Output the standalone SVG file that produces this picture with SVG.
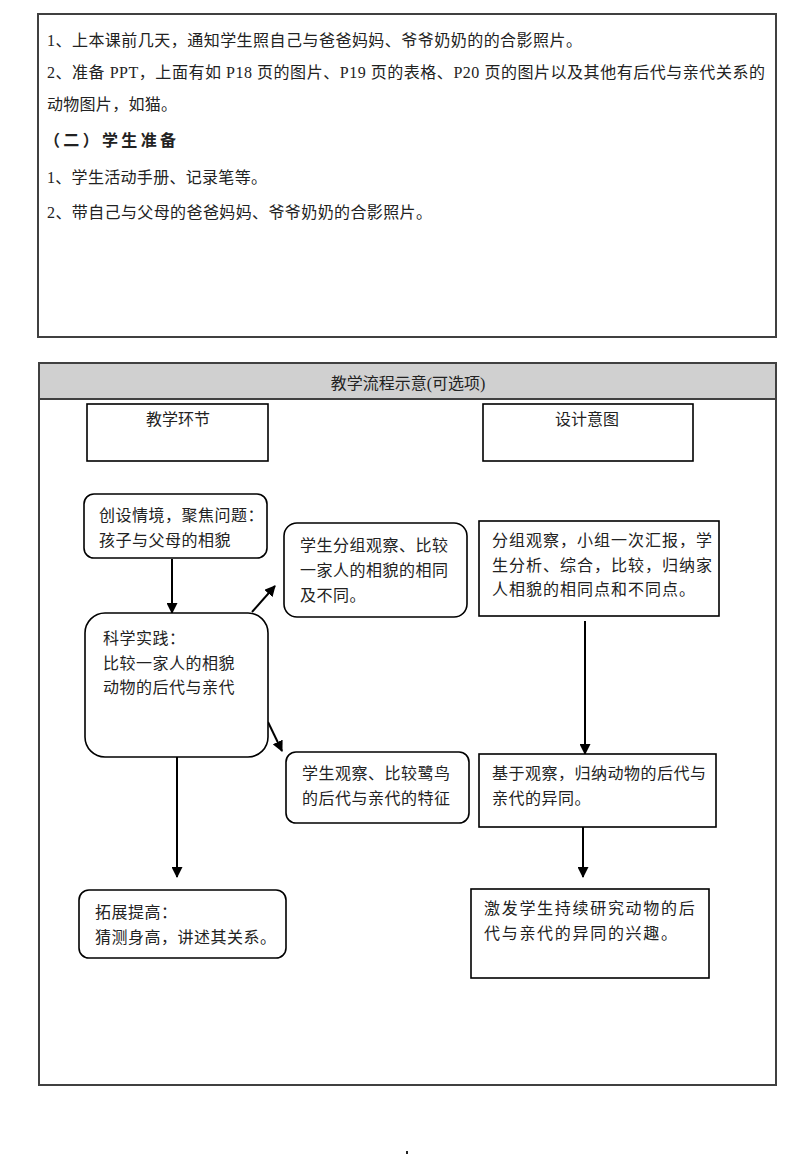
<svg xmlns="http://www.w3.org/2000/svg" width="800" height="1155" viewBox="0 0 800 1155">
<defs>
<marker id="ah" markerWidth="11" markerHeight="11" refX="10" refY="5.5" orient="auto" markerUnits="userSpaceOnUse">
<path d="M0,0 L11,5.5 L0,11 Z" fill="#000"/>
</marker>
<style>
.t{font-family:"Liberation Serif","Noto Sans CJK SC",serif;font-size:16px;fill:#222}
.tb{font-weight:bold}
.f{font-family:"Liberation Serif","Noto Sans CJK SC",serif;font-size:16px;fill:#222;letter-spacing:0.5px}
.fw{letter-spacing:1px}
.fh{letter-spacing:1.7px}
.h{font-family:"Liberation Serif","Noto Sans CJK SC",serif;font-size:16px;fill:#222;text-anchor:middle}
.frame{fill:none;stroke:#404040;stroke-width:2}
.box{fill:#fff;stroke:#000;stroke-width:1.6}
.conn{stroke:#000;stroke-width:2;fill:none;marker-end:url(#ah)}
</style>
</defs>
<rect width="800" height="1155" fill="#fff"/>

<g id="prep">
<rect class="frame" x="38" y="14" width="738" height="323"/>
<text class="t" x="47" y="46" textLength="535" lengthAdjust="spacing">1、上本课前几天，通知学生照自己与爸爸妈妈、爷爷奶奶的的合影照片。</text>
<text class="t" x="47" y="78" textLength="718" lengthAdjust="spacing">2、准备 PPT，上面有如 P18 页的图片、P19 页的表格、P20 页的图片以及其他有后代与亲代关系的</text>
<text class="t" x="47" y="110" textLength="130" lengthAdjust="spacing">动物图片，如猫。</text>
<text class="t tb" x="44" y="146" textLength="132" lengthAdjust="spacing">（二）学生准备</text>
<text class="t" x="47" y="183" textLength="220" lengthAdjust="spacing">1、学生活动手册、记录笔等。</text>
<text class="t" x="47" y="218" textLength="385" lengthAdjust="spacing">2、带自己与父母的爸爸妈妈、爷爷奶奶的合影照片。</text>
</g>

<g id="flow-table">
<rect x="39" y="363" width="737" height="36" fill="#d0d0d0"/>
<rect class="frame" x="39" y="363" width="737" height="722"/>
<line x1="39" y1="399" x2="776" y2="399" stroke="#404040" stroke-width="2"/>
<text class="h" x="408" y="389">教学流程示意(可选项)</text>
</g>

<g id="col-teaching">
<rect class="box" x="87" y="404" width="181" height="57"/>
<text class="h" x="178" y="425">教学环节</text>
</g>
<g id="col-design">
<rect class="box" x="483" y="404" width="210" height="57"/>
<text class="h" x="587" y="425">设计意图</text>
</g>

<g id="connectors">
<line class="conn" x1="172" y1="559" x2="172" y2="613"/>
<line class="conn" x1="252" y1="612" x2="275" y2="586"/>
<line class="conn" x1="268" y1="722" x2="282" y2="751"/>
<line class="conn" x1="177" y1="757" x2="177" y2="877"/>
<line class="conn" x1="585" y1="621" x2="585" y2="754"/>
<line class="conn" x1="583" y1="827" x2="583" y2="877"/>
</g>

<g id="n-situation">
<rect class="box" x="84" y="494" width="183" height="64" rx="10"/>
<text class="f" x="99" y="521">创设情境，聚焦问题：</text>
<text class="f" x="99" y="546">孩子与父母的相貌</text>
</g>

<g id="n-practice">
<rect class="box" x="85" y="613" width="183" height="144" rx="20"/>
<text class="f" x="103" y="644">科学实践：</text>
<text class="f" x="103" y="669">比较一家人的相貌</text>
<text class="f" x="103" y="693">动物的后代与亲代</text>
</g>

<g id="n-group">
<rect class="box" x="284" y="523" width="183" height="94" rx="13"/>
<text class="f" x="300" y="551">学生分组观察、比较</text>
<text class="f" x="300" y="576">一家人的相貌的相同</text>
<text class="f" x="300" y="601">及不同。</text>
</g>

<g id="n-egret">
<rect class="box" x="286" y="752" width="183" height="71" rx="10"/>
<text class="f" x="302" y="779">学生观察、比较鹭鸟</text>
<text class="f" x="302" y="804">的后代与亲代的特征</text>
</g>

<g id="n-extend">
<rect class="box" x="79" y="890" width="207" height="68" rx="10"/>
<text class="f" x="95" y="918">拓展提高：</text>
<text class="f" x="95" y="943">猜测身高，讲述其关系。</text>
</g>

<g id="n-design1">
<rect class="box" x="479" y="521" width="240" height="95"/>
<text class="f fw" x="492" y="546">分组观察，小组一次汇报，学</text>
<text class="f fw" x="492" y="571">生分析、综合，比较，归纳家</text>
<text class="f fw" x="492" y="595">人相貌的相同点和不同点。</text>
</g>

<g id="n-design2">
<rect class="box" x="479" y="754" width="237" height="73"/>
<text class="f" x="492" y="779">基于观察，归纳动物的后代与</text>
<text class="f" x="492" y="804">亲代的异同。</text>
</g>

<g id="n-design3">
<rect class="box" x="471" y="889" width="238" height="89"/>
<text class="f fh" x="484" y="914">激发学生持续研究动物的后</text>
<text class="f fh" x="484" y="939">代与亲代的异同的兴趣。</text>
</g>

<rect x="406" y="1151" width="2" height="3" fill="#222"/>
</svg>
